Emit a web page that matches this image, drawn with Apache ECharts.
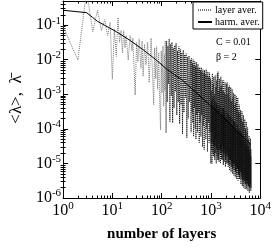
<!DOCTYPE html>
<html>
<head>
<meta charset="utf-8">
<script src="https://cdn.jsdelivr.net/npm/echarts@6/dist/echarts.min.js"></script>
<style>
html,body{margin:0;padding:0;background:#fff;}
#c{width:274px;height:247px;}
</style>
</head>
<body>
<div id="c"></div>
<script>
// ---------- data ----------
const seriesNames = ['layer aver.', 'harm. aver.'];

// layer average, first layers (individual zig-zags visible): [layer number, value]
const layerAverSparse = [
[1,0.093],[2,0.0098],[3,1.0],[4,0.065],[5,0.27],[6,0.07],[7,0.145],[8,0.05],[9,0.12],[10,2.75e-3],
[11,0.078],[12,0.0125],[13,0.166],[14,0.032],[15,0.07],[16,0.016],[17,0.069],[18,0.022],[19,0.05],[21,0.0098],
[23,0.05],[25,0.018],[26,0.042],[29,9.5e-4],[31,0.032],[33,8.9e-3],[35,0.04],[38,5.6e-3],[40,0.035],[42,3.3e-3],
[45,0.028],[48,7e-3],[52,0.032],[56,2.2e-3],[61,0.042],[65,4.5e-3],[69,5e-4],[72,0.022],[76,2.8e-3],[79,0.024],
[83,1.4e-3],[87,0.016],[91,7e-4],[95,9.3e-5],[98,0.018],[102,1.1e-3],[106,0.025],[110,4.5e-4],[114,0.014],[116,1.3e-3],
[118,0.035],[123,7.8e-5]
];

// layer average, later layers (dense, overplotted): [layer number, value]
const layerAverDense = [
[123,7.8e-5],
[126,3.5e-2],[130,6e-4],[134,2.5e-2],[138,2e-3],[142,4e-2],[147,1.6e-4],[152,2.8e-2],[157,9e-4],[162,3.2e-2],[167,1.5e-4],
[172,2.2e-2],[178,4e-4],[184,2.6e-2],[190,1.2e-3],[196,3e-2],[203,2.5e-4],[210,1.8e-2],[217,6e-4],[224,2.4e-2],[232,1.4e-4],
[240,2e-2],[248,5e-4],[256,1.6e-2],[265,7e-5],[274,1.9e-2],[283,3e-4],[293,1.4e-2],[303,8e-4],[313,1.5e-2],[324,5.5e-5],
[335,1.2e-2],[346,2e-4],[358,1.3e-2],[370,6e-4],[383,1e-2],[396,8e-5],
[405,1.1e-2],[412,3e-4],[420,8e-3],[428,1.5e-4],[436,1e-2],[444,6e-5],[452,7e-3],[460,4e-4],[469,9e-3],[478,1e-4],
[487,6.5e-3],[496,5e-5],[505,8.5e-3],[515,2.5e-4],[525,6e-3],[535,8e-5],[545,7.5e-3],[556,3e-4],[567,5.5e-3],[578,4e-5],
[589,6e-3],[600,1.5e-4],[612,5e-3],[624,6e-5],[636,6e-3],[648,2.5e-4],[661,4.5e-3],[674,3e-5],[687,5.2e-3],[700,1.2e-4],
[714,4e-3],[728,2.5e-5],[742,5e-3],[757,2e-4],[772,3.8e-3],[787,5e-5],[802,5.2e-3],[818,1e-4],[834,3.5e-3],[850,2.2e-5],
[867,4.5e-3],[884,1.5e-4],[901,3.2e-3],[919,4e-5],[937,4.2e-3],[955,8e-5],[974,3e-3],[993,1e-5],
[1000,2.5e-3],[1017,4e-5],[1023,6.3e-4],[1029,2.5e-5],[1034,1.26e-3],[1051,1e-5],[1057,4e-4],[1062,4e-5],
[1068,4e-3],[1086,8e-5],[1092,8e-4],[1098,2e-5],[1104,2e-3],[1122,1.6e-5],[1128,5e-4],[1134,3.2e-5],
[1141,3.2e-3],[1160,3.2e-5],[1166,3.2e-4],[1172,1.6e-5],[1179,1e-3],[1199,1.26e-5],[1205,6.3e-4],[1212,3.2e-5],
[1219,3.5e-3],[1239,5e-5],[1246,4e-4],[1253,2e-5],[1260,1.6e-3],[1281,1e-5],[1288,5.6e-4],[1295,2.8e-5],
[1302,2.5e-3],[1324,2.5e-5],[1331,3.2e-4],[1338,1.6e-5],[1346,4e-3],[1368,1.26e-5],[1375,5e-4],[1383,2.5e-5],
[1391,4.5e-3],[1414,4e-5],[1422,3.5e-4],[1430,1.26e-5],[1438,1.26e-3],[1462,1.1e-5],[1470,5e-4],[1478,2.5e-5],
[1486,2.8e-3],[1511,2.5e-5],[1519,2.8e-4],[1527,1.8e-5],[1536,1.6e-3],[1561,1e-5],[1570,4.5e-4],[1578,2.5e-5],
[1587,3.2e-3],[1614,2e-5],[1623,2.5e-4],[1632,1.4e-5],[1641,1.8e-3],[1668,1.26e-5],[1677,4e-4],[1686,2.2e-5],
[1696,2.5e-3],[1724,3.2e-5],[1733,2.8e-4],[1742,1.26e-5],[1752,1.26e-3],[1781,9e-6],[1791,4e-4],[1801,2e-5],
[1811,2.5e-3],[1841,1.6e-5],[1851,2.5e-4],[1861,1.1e-5],[1872,1.1e-3],[1903,2.5e-5],[1913,3.2e-4],[1923,2e-5],
[1934,2.2e-3],[1966,8e-6],[1977,2.2e-4],[1988,1.26e-5],[1999,1e-3],[2032,1.6e-5],[2043,3.2e-4],[2055,1.8e-5],
[2066,2e-3],[2100,1e-5],[2112,2e-4],[2123,1e-5],[2135,2.2e-3],[2171,2e-5],[2183,2.8e-4],[2195,1.6e-5],
[2207,1e-3],[2243,8e-6],[2255,1.8e-4],[2268,1e-5],[2280,1.6e-3],[2318,1.26e-5],[2331,2.5e-4],[2344,1.4e-5],
[2357,1.8e-3],[2396,6.3e-6],[2409,1.6e-4],[2423,9e-6],[2436,8e-4],[2476,1.26e-5],[2490,2.2e-4],[2503,1.26e-5],
[2517,1.6e-3],[2559,5.6e-6],[2573,1.4e-4],[2587,8e-6],[2601,6.3e-4],[2644,1e-5],[2659,2e-4],[2673,1.1e-5],
[2688,1.4e-3],[2733,5e-6],[2748,1.26e-4],[2763,7e-6],[2778,8e-4],[2824,8e-6],[2840,1.8e-4],[2855,1e-5],
[2871,1.1e-3],[2919,4.5e-6],[2935,1.1e-4],[2951,6.3e-6],[2967,5e-4],[3016,1e-5],[3033,1.6e-4],[3049,9e-6],
[3066,1e-3],[3117,4e-6],[3134,1e-4],[3151,5.6e-6],[3169,5.6e-4],[3221,6.3e-6],[3239,1.4e-4],[3257,8e-6],
[3275,8.7e-4],[3329,3.5e-6],[3347,8.9e-5],[3365,5e-6],[3384,4e-4],[3440,7e-6],[3459,1.26e-4],[3478,7e-6],
[3497,8e-4],[3555,3.2e-6],[3575,8e-5],[3594,4.5e-6],[3614,3.2e-4],[3674,5e-6],[3694,1e-4],[3714,6.3e-6],
[3735,5e-4],[3797,3.5e-6],[3818,7e-5],[3839,4e-6],[3860,2.8e-4],[3924,6.3e-6],[3946,8.9e-5],[3967,5.6e-6],
[3989,3.5e-4],[4055,2.5e-6],[4077,6.3e-5],[4099,3.5e-6],[4122,2e-4],[4191,4.5e-6],[4214,8e-5],[4237,5e-6],
[4260,3.2e-4],[4331,2.2e-6],[4355,5e-5],[4379,3.2e-6],[4403,1.6e-4],[4476,3.5e-6],[4501,7e-5],[4525,4.5e-6],
[4550,2.5e-4],[4625,2e-6],[4651,4.5e-5],[4676,2.8e-6],[4702,1.26e-4],[4780,3.2e-6],[4806,5.6e-5],[4832,4e-6],
[4859,1.9e-4],[4940,1.8e-6],[4967,3.5e-5],[4994,2.5e-6],[5022,1e-4],[5105,2.8e-6],[5133,5e-5],[5161,3.5e-6],
[5190,1.6e-4],[5276,1.8e-6],[5305,3.2e-5],[5334,2.5e-6],[5363,8e-5],[5452,2.5e-6],[5482,4e-5],[5512,3.2e-6],
[5543,1.1e-4],[5635,1.6e-6],[5666,2.5e-5],[5697,2.2e-6],[5728,5e-5],[5823,2.2e-6],[5855,3.2e-5],[5887,2.8e-6],
[5920,6.3e-5],[6018,1.4e-6],[6051,2e-5],[6084,2e-6],[6118,4e-5],[6220,2e-6],[6254,2.5e-5],[6288,2.5e-6],
[6323,5.2e-5],[6428,1.6e-6],[6464,1.6e-5],[6499,2e-6],[6535,2.5e-5]
];

// harmonic average: [layer number, value]
const harmAver = [
[1,0.27],[3,0.23],[4,0.166],[5,0.129],[8,0.089],[12,0.065],[23,0.036],[42,0.0195],
[78,0.0098],[130,5.2e-3],[260,2.6e-3],[631,8.3e-4],[1514,2.7e-4],[3000,1.0e-4],[6500,3.5e-5]
];

// axis ranges / ticks
const xMin = 1, xMax = 10000;
const yMin = 1e-6, yMax = 0.5;
const xDecades = [0, 1, 2, 3];          // decades carrying minor ticks
const yDecades = [-6, -5, -4, -3, -2, -1];
const minorMantissas = [2, 3, 4, 5, 6, 7, 8, 9];
const annotations = ['C = 0.01', '\u03b2 = 2'];

// ---------- build ----------
function minorTicks(decades, hi) {
  const out = [];
  decades.forEach(function (k) {
    minorMantissas.forEach(function (m) {
      const v = k + Math.log10(m);
      if (v < hi) out.push(v);
    });
  });
  return out;
}
const xMinor = minorTicks(xDecades, Math.log10(xMax));
const yMinor = minorTicks(yDecades, Math.log10(yMax));

const FONT = 'Liberation Serif';
function powLabel(v) {
  const e = Math.log10(v);
  const r = Math.round(e);
  if (Math.abs(e - r) > 0.01) return '';
  return '{b|10}{s|' + (r < 0 ? '-' + (-r) : r) + '}';
}
const labelRich = {
  b: { fontFamily: FONT, fontSize: 16, color: '#000' },
  s: { fontFamily: FONT, fontSize: 11, color: '#000', padding: [0, 0, 9, 0] }
};

function majorLog(dim, pos, showLabel, extra) {
  return Object.assign({
    type: 'log', logBase: 10, position: pos,
    min: dim === 'x' ? xMin : yMin, max: dim === 'x' ? xMax : yMax,
    axisLine: { show: true, onZero: false, lineStyle: { color: '#000', width: 1 } },
    axisTick: { show: true, inside: true, length: 5, lineStyle: { color: '#000' } },
    minorTick: { show: false },
    splitLine: { show: false },
    axisLabel: showLabel ? {
      show: true, formatter: powLabel, rich: labelRich,
      margin: dim === 'x' ? 3 : 2, showMaxLabel: dim === 'x', hideOverlap: false
    } : { show: false }
  }, extra || {});
}
function minorVal(dim, pos, vals) {
  return {
    type: 'value', position: pos,
    min: dim === 'x' ? Math.log10(xMin) : Math.log10(yMin),
    max: dim === 'x' ? Math.log10(xMax) : Math.log10(yMax),
    axisLine: { show: false },
    axisTick: { show: true, inside: true, length: 2.5, customValues: vals, lineStyle: { color: '#000' } },
    axisLabel: { show: false },
    splitLine: { show: false }
  };
}

const chart = echarts.init(document.getElementById('c'), null, { renderer: 'canvas' });
chart.setOption({
  animation: false,
  backgroundColor: '#fff',
  grid: { left: 53, right: 10, top: 1, bottom: 38 },
  legend: {
    data: seriesNames,
    orient: 'vertical',
    left: 193, top: 2,
    backgroundColor: '#fff',
    borderColor: '#000', borderWidth: 1,
    padding: [3, 3, 2, 4],
    itemGap: 2, itemWidth: 14, itemHeight: 8,
    itemStyle: { opacity: 0 },
    textStyle: { fontFamily: FONT, fontSize: 10, color: '#000', padding: [0, 0, 0, -2] }
  },
  graphic: [
    { type: 'text', left: 216, top: 37, style: { text: annotations[0], font: '10px "Liberation Serif"', fill: '#000' } },
    { type: 'text', left: 216, top: 52, style: { text: annotations[1], font: '10px "Liberation Serif"', fill: '#000' } }
  ],
  xAxis: [
    majorLog('x', 'bottom', true, {
      name: 'number of layers', nameLocation: 'middle', nameGap: 29,
      nameTextStyle: { fontFamily: FONT, fontSize: 15, fontWeight: 'bold', color: '#000' }
    }),
    minorVal('x', 'bottom', xMinor),
    majorLog('x', 'top', false),
    minorVal('x', 'top', xMinor)
  ],
  yAxis: [
    majorLog('y', 'left', true, {
      name: '<\u03bb>,  \u03bb\u0304', nameLocation: 'middle', nameGap: 37, nameRotate: 90,
      nameTextStyle: { fontFamily: FONT, fontSize: 17, color: '#000' }
    }),
    minorVal('y', 'left', yMinor),
    majorLog('y', 'right', false),
    minorVal('y', 'right', yMinor)
  ],
  series: [
    {
      name: seriesNames[0], type: 'line', xAxisIndex: 0, yAxisIndex: 0,
      data: layerAverSparse, symbol: 'none', clip: true,
      lineStyle: { color: '#777', width: 1, type: [1, 1] },
      itemStyle: { color: '#777' }, z: 2
    },
    {
      name: seriesNames[0], type: 'line', xAxisIndex: 0, yAxisIndex: 0,
      data: layerAverDense, symbol: 'none', clip: true,
      lineStyle: { color: '#111', width: 1, type: [1, 1] },
      itemStyle: { color: '#111' }, z: 2
    },
    {
      name: seriesNames[1], type: 'line', xAxisIndex: 0, yAxisIndex: 0,
      data: harmAver, symbol: 'none', clip: true,
      lineStyle: { color: '#000', width: 1, type: 'solid' },
      itemStyle: { color: '#000' }, z: 3
    }
  ]
});
</script>
</body>
</html>
